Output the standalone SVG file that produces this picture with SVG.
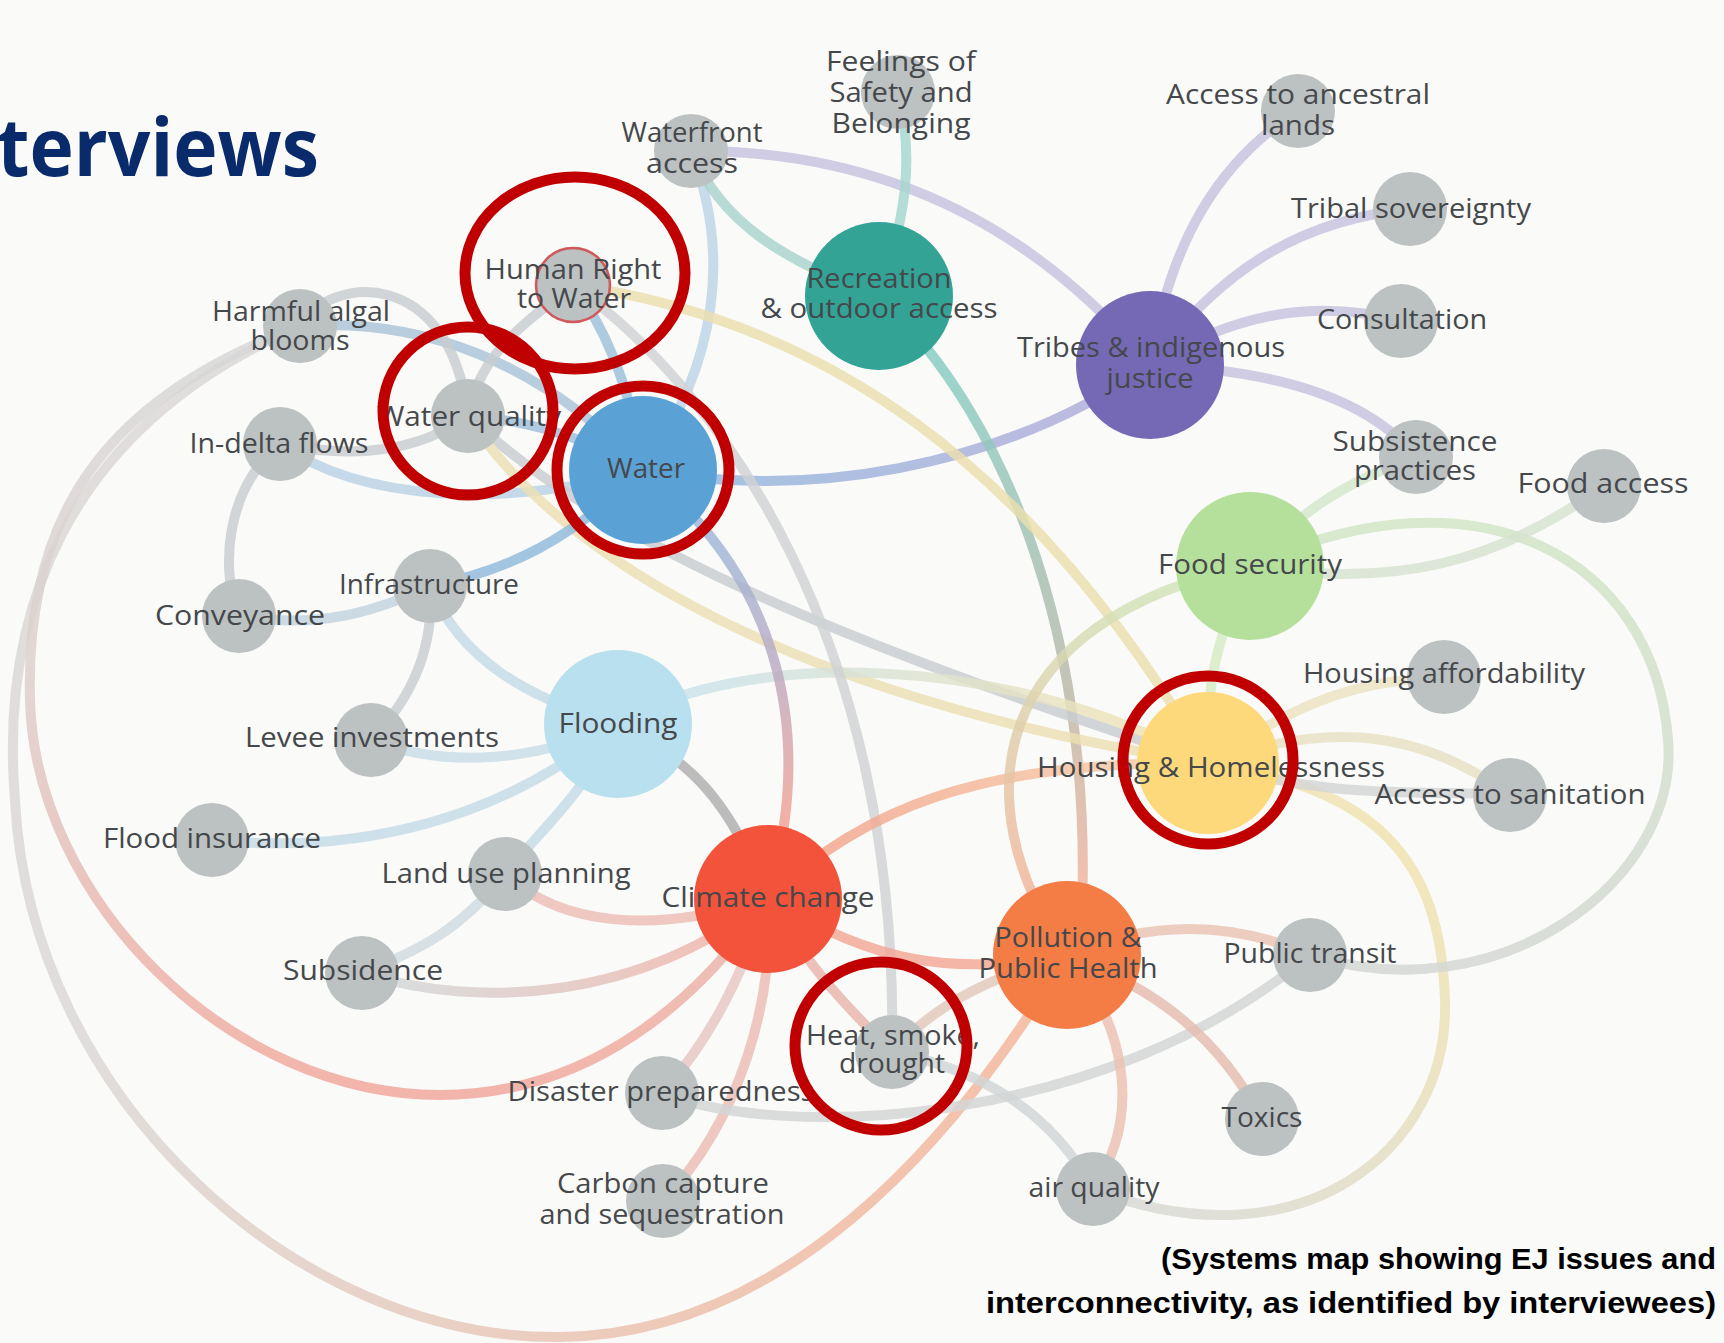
<svg xmlns="http://www.w3.org/2000/svg" width="1724" height="1343" viewBox="0 0 1724 1343">
<style>
.edge{fill:none;stroke-width:10;stroke-linecap:round;stroke-opacity:.82}
.g{stroke:#c9cdcf}
.lb{stroke:#b9d2e4}
.b{stroke:#9ec0dc}
.pu{stroke:#c6c2df}
.lbl{font-family:"Open Sans","Liberation Sans",sans-serif;font-size:27px;fill:#45484b;text-anchor:middle}
.sm circle{fill:#bcc1c2}
.hl{fill:none;stroke:#c00000;stroke-width:11}
.cap{font-family:"Liberation Sans",Arial,sans-serif;font-weight:700;font-size:30px;fill:#000}
</style>
<defs>
<linearGradient id="gWC" gradientUnits="userSpaceOnUse" x1="690" y1="520" x2="775" y2="826"><stop offset="0" stop-color="#98b8dc"/><stop offset=".5" stop-color="#b9a9c4"/><stop offset="1" stop-color="#f2a092"/></linearGradient>
<linearGradient id="gRP" gradientUnits="userSpaceOnUse" x1="0" y1="370" x2="0" y2="880"><stop offset="0" stop-color="#86cbc1"/><stop offset=".6" stop-color="#b6b8a8"/><stop offset="1" stop-color="#efb39e"/></linearGradient>
<linearGradient id="gA" gradientUnits="userSpaceOnUse" x1="0" y1="340" x2="0" y2="1080"><stop offset="0" stop-color="#d6d7d7"/><stop offset=".45" stop-color="#dccfcd"/><stop offset="1" stop-color="#f1a69a"/></linearGradient>
<linearGradient id="gB" gradientUnits="userSpaceOnUse" x1="0" y1="800" x2="1050" y2="1100"><stop offset=".15" stop-color="#dad7d5"/><stop offset="1" stop-color="#f4b396"/></linearGradient>
<linearGradient id="gCH" gradientUnits="userSpaceOnUse" x1="800" y1="0" x2="1140" y2="0"><stop offset="0" stop-color="#f3a189"/><stop offset="1" stop-color="#f6cba6"/></linearGradient>
<linearGradient id="gPF" gradientUnits="userSpaceOnUse" x1="0" y1="890" x2="0" y2="575"><stop offset="0" stop-color="#f0b49a"/><stop offset="1" stop-color="#d0e5b9"/></linearGradient>
<linearGradient id="gAQ" gradientUnits="userSpaceOnUse" x1="1100" y1="1200" x2="1450" y2="850"><stop offset="0" stop-color="#d6d8d6"/><stop offset="1" stop-color="#f2e3ab"/></linearGradient>
<linearGradient id="gPT" gradientUnits="userSpaceOnUse" x1="0" y1="980" x2="0" y2="500"><stop offset="0" stop-color="#d3d6d3"/><stop offset="1" stop-color="#d0e6c4"/></linearGradient>
<linearGradient id="gFH" gradientUnits="userSpaceOnUse" x1="650" y1="0" x2="1150" y2="0"><stop offset="0" stop-color="#c7e2ee"/><stop offset="1" stop-color="#efe3b5"/></linearGradient>
<linearGradient id="gWT" gradientUnits="userSpaceOnUse" x1="700" y1="0" x2="1100" y2="0"><stop offset="0" stop-color="#93b6de"/><stop offset="1" stop-color="#b0acd9"/></linearGradient>
<linearGradient id="gSC" gradientUnits="userSpaceOnUse" x1="400" y1="0" x2="720" y2="0"><stop offset="0" stop-color="#d3d6d7"/><stop offset="1" stop-color="#efb4aa"/></linearGradient>
</defs>
<rect width="1724" height="1343" fill="#fafaf8"/>
<text x="-3" y="176" font-family="'Open Sans','Liberation Sans',sans-serif" font-weight="700" font-size="80" fill="#0a2b6b" textLength="322" lengthAdjust="spacingAndGlyphs">terviews</text>

<g id="connectors">
<path class="edge" style="stroke:url(#gB)" d="M300,326 C 60,430 0,620 15,800 C 30,1100 300,1340 560,1337 C 780,1335 950,1150 1067,955"/>
<path class="edge" style="stroke:url(#gA)" d="M300,326 C 100,400 25,520 30,700 C 35,900 230,1095 440,1095 C 590,1095 700,1000 768,899"/>
<path class="edge" stroke="#a9c4d8" d="M300,326 C 420,318 540,360 643,470"/>
<path class="edge g" d="M300,326 C 330,275 450,265 468,416"/>
<path class="edge g" d="M573,285 C 530,320 480,350 468,416"/>
<path class="edge g" d="M280,444 C 360,460 420,450 468,416"/>
<path class="edge lb" d="M280,444 C 360,500 500,510 643,470"/>
<path class="edge b" d="M468,416 C 530,420 590,440 643,470"/>
<path class="edge b" d="M573,285 C 600,320 630,380 643,470"/>
<path class="edge" stroke="#bcd4e6" d="M691,151 C 730,250 720,360 643,470"/>
<path class="edge" stroke="#a8d3cd" d="M691,151 C 720,220 780,260 879,296"/>
<path class="edge pu" d="M691,151 C 860,150 1020,210 1150,365"/>
<path class="edge" stroke="#a6d7d0" d="M898,92 C 915,160 905,220 879,296"/>
<path class="edge" style="stroke:url(#gWT)" d="M643,470 C 800,500 1000,470 1150,365"/>
<path class="edge" style="stroke:url(#gRP)" d="M879,296 C 1010,420 1100,650 1080,955"/>
<path class="edge" stroke="#eadfae" d="M573,285 C 820,320 1030,460 1208,763"/>
<path class="edge g" d="M468,416 C 620,560 900,660 1208,763"/>
<path class="edge" stroke="#ebe1b3" d="M468,416 C 560,560 800,700 1208,763"/>
<path class="edge" style="stroke:url(#gFH)" d="M618,724 C 740,650 1000,650 1208,763"/>
<path class="edge" style="stroke:url(#gWC)" d="M643,470 C 770,570 820,720 768,899"/>
<path class="edge" stroke="#cfd2d3" d="M573,285 C 720,390 900,640 892,1052"/>
<path class="edge" stroke="#c5dbe5" d="M430,586 C 460,660 530,700 618,724"/>
<path class="edge" stroke="#8fb9dc" d="M430,586 C 510,570 570,540 643,470"/>
<path class="edge" stroke="#c2d3df" d="M239,616 C 320,630 380,610 430,586"/>
<path class="edge g" d="M430,586 C 435,650 410,700 371,740"/>
<path class="edge g" d="M280,444 C 225,490 220,570 239,616"/>
<path class="edge" stroke="#c8dde7" d="M371,740 C 450,770 540,760 618,724"/>
<path class="edge" stroke="#c4dce8" d="M212,840 C 360,855 500,820 618,724"/>
<path class="edge" stroke="#c4dce8" d="M505,874 C 540,830 580,800 618,724"/>
<path class="edge" stroke="#cfdbe0" d="M505,874 C 460,930 420,950 362,973"/>
<path class="edge" stroke="#ebbdb5" d="M505,874 C 560,925 650,935 768,899"/>
<path class="edge" stroke="#aeaeae" d="M618,724 C 690,760 730,800 768,899"/>
<path class="edge" style="stroke:url(#gSC)" d="M362,973 C 480,1010 640,1000 768,899"/>
<path class="edge" stroke="#e8c6c3" d="M768,899 C 740,980 710,1040 662,1093"/>
<path class="edge" stroke="#ecbcb5" d="M768,899 C 775,1000 740,1120 663,1201"/>
<path class="edge" stroke="#e9b4ab" d="M768,899 C 810,970 850,1010 892,1052"/>
<path class="edge" stroke="#f3a795" d="M768,899 C 880,965 950,975 1067,955"/>
<path class="edge" style="stroke:url(#gCH)" d="M768,899 C 860,810 980,760 1208,763"/>
<path class="edge" stroke="#d3d6d6" d="M662,1093 C 780,1140 1100,1130 1310,955"/>
<path class="edge" stroke="#d2d6d6" d="M892,1052 C 980,1070 1050,1110 1093,1189"/>
<path class="edge" stroke="#e2c8bc" d="M892,1052 C 930,1010 980,980 1067,955"/>
<path class="edge" style="stroke:url(#gPF)" d="M1067,955 C 960,800 990,620 1250,566"/>
<path class="edge" stroke="#ecc3b4" d="M1067,955 C 1150,920 1230,920 1310,955"/>
<path class="edge" stroke="#e6bcae" d="M1067,955 C 1160,990 1220,1040 1262,1119"/>
<path class="edge" stroke="#ebbfb2" d="M1067,955 C 1130,1030 1140,1120 1093,1189"/>
<path class="edge" style="stroke:url(#gAQ)" d="M1093,1189 C 1300,1270 1450,1150 1445,1000 C 1440,860 1380,790 1208,763"/>
<path class="edge" style="stroke:url(#gPT)" d="M1310,955 C 1500,1015 1680,880 1668,740 C 1655,560 1480,460 1250,566"/>
<path class="edge" stroke="#d5e3d0" d="M1250,566 C 1400,590 1500,560 1604,486"/>
<path class="edge" stroke="#d3e7cb" d="M1250,566 C 1300,510 1350,480 1416,457"/>
<path class="edge" stroke="#d6ebc3" d="M1250,566 C 1215,640 1205,690 1208,763"/>
<path class="edge" stroke="#ece3c2" d="M1208,763 C 1300,700 1360,680 1444,677"/>
<path class="edge" stroke="#e9e1c5" d="M1208,763 C 1330,720 1420,730 1510,795"/>
<path class="edge" stroke="#d3d6d6" d="M1208,763 C 1330,800 1420,790 1510,795"/>
<path class="edge pu" d="M1150,365 C 1170,240 1220,160 1298,111"/>
<path class="edge pu" d="M1150,365 C 1220,270 1300,220 1410,209"/>
<path class="edge pu" d="M1150,365 C 1240,310 1320,300 1401,321"/>
<path class="edge pu" d="M1150,365 C 1280,370 1370,400 1416,457"/>
</g>

<g id="n-feelings" class="sm"><circle cx="898" cy="92" r="37"/><text class="lbl" x="901" y="71" textLength="150" lengthAdjust="spacingAndGlyphs">Feelings of</text><text class="lbl" x="901" y="102" textLength="143" lengthAdjust="spacingAndGlyphs">Safety and</text><text class="lbl" x="901" y="133" textLength="139" lengthAdjust="spacingAndGlyphs">Belonging</text></g>
<g id="n-waterfront" class="sm"><circle cx="691" cy="151" r="37"/><text class="lbl" x="692" y="142" textLength="141" lengthAdjust="spacingAndGlyphs">Waterfront</text><text class="lbl" x="692" y="173" textLength="92" lengthAdjust="spacingAndGlyphs">access</text></g>
<g id="n-ancestral" class="sm"><circle cx="1298" cy="111" r="37"/><text class="lbl" x="1298" y="104" textLength="264" lengthAdjust="spacingAndGlyphs">Access to ancestral</text><text class="lbl" x="1298" y="135" textLength="74" lengthAdjust="spacingAndGlyphs">lands</text></g>
<g id="n-sovereignty" class="sm"><circle cx="1410" cy="209" r="37"/><text class="lbl" x="1411" y="218" textLength="240" lengthAdjust="spacingAndGlyphs">Tribal sovereignty</text></g>
<g id="n-consultation" class="sm"><circle cx="1401" cy="321" r="37"/><text class="lbl" x="1402" y="329" textLength="170" lengthAdjust="spacingAndGlyphs">Consultation</text></g>
<g id="n-tribes"><circle cx="1150" cy="365" r="74" fill="#7569b6"/><text class="lbl" x="1151" y="357" textLength="268" lengthAdjust="spacingAndGlyphs">Tribes &amp; indigenous</text><text class="lbl" x="1150" y="388" textLength="87" lengthAdjust="spacingAndGlyphs">justice</text></g>
<g id="n-subsistence" class="sm"><circle cx="1416" cy="457" r="37"/><text class="lbl" x="1415" y="451" textLength="165" lengthAdjust="spacingAndGlyphs">Subsistence</text><text class="lbl" x="1415" y="480" textLength="122" lengthAdjust="spacingAndGlyphs">practices</text></g>
<g id="n-foodaccess" class="sm"><circle cx="1604" cy="486" r="37"/><text class="lbl" x="1603" y="493" textLength="171" lengthAdjust="spacingAndGlyphs">Food access</text></g>
<g id="n-foodsecurity"><circle cx="1250" cy="566" r="74" fill="#b5e09c"/><text class="lbl" x="1250" y="574" textLength="184" lengthAdjust="spacingAndGlyphs">Food security</text></g>
<g id="n-affordability" class="sm"><circle cx="1444" cy="677" r="37"/><text class="lbl" x="1444" y="683" textLength="282" lengthAdjust="spacingAndGlyphs">Housing affordability</text></g>
<g id="n-housing"><circle cx="1208" cy="763" r="71" fill="#fed97c"/><text class="lbl" x="1211" y="777" textLength="348" lengthAdjust="spacingAndGlyphs">Housing &amp; Homelessness</text></g>
<g id="n-sanitation" class="sm"><circle cx="1510" cy="795" r="37"/><text class="lbl" x="1510" y="804" textLength="271" lengthAdjust="spacingAndGlyphs">Access to sanitation</text></g>
<g id="n-pollution"><circle cx="1067" cy="955" r="74" fill="#f47c45"/><text class="lbl" x="1068" y="947" textLength="147" lengthAdjust="spacingAndGlyphs">Pollution &amp;</text><text class="lbl" x="1068" y="978" textLength="179" lengthAdjust="spacingAndGlyphs">Public Health</text></g>
<g id="n-transit" class="sm"><circle cx="1310" cy="955" r="37"/><text class="lbl" x="1310" y="963" textLength="173" lengthAdjust="spacingAndGlyphs">Public transit</text></g>
<g id="n-toxics" class="sm"><circle cx="1262" cy="1119" r="37"/><text class="lbl" x="1262" y="1127" textLength="81" lengthAdjust="spacingAndGlyphs">Toxics</text></g>
<g id="n-air" class="sm"><circle cx="1093" cy="1189" r="37"/><text class="lbl" x="1094" y="1197" textLength="131" lengthAdjust="spacingAndGlyphs">air quality</text></g>
<g id="n-heat" class="sm"><circle cx="892" cy="1052" r="37"/><text class="lbl" x="893" y="1045" textLength="174" lengthAdjust="spacingAndGlyphs">Heat, smoke,</text><text class="lbl" x="892" y="1073" textLength="106" lengthAdjust="spacingAndGlyphs">drought</text></g>
<g id="n-climate"><circle cx="768" cy="899" r="74" fill="#f2533a"/><text class="lbl" x="768" y="907" textLength="213" lengthAdjust="spacingAndGlyphs">Climate change</text></g>
<g id="n-disaster" class="sm"><circle cx="662" cy="1093" r="37"/><text class="lbl" x="661" y="1101" textLength="307" lengthAdjust="spacingAndGlyphs">Disaster preparedness</text></g>
<g id="n-carbon" class="sm"><circle cx="663" cy="1201" r="37"/><text class="lbl" x="663" y="1193" textLength="212" lengthAdjust="spacingAndGlyphs">Carbon capture</text><text class="lbl" x="662" y="1224" textLength="245" lengthAdjust="spacingAndGlyphs">and sequestration</text></g>
<g id="n-subsidence" class="sm"><circle cx="362" cy="973" r="37"/><text class="lbl" x="363" y="980" textLength="160" lengthAdjust="spacingAndGlyphs">Subsidence</text></g>
<g id="n-landuse" class="sm"><circle cx="505" cy="874" r="37"/><text class="lbl" x="506" y="883" textLength="249" lengthAdjust="spacingAndGlyphs">Land use planning</text></g>
<g id="n-floodins" class="sm"><circle cx="212" cy="840" r="37"/><text class="lbl" x="212" y="848" textLength="218" lengthAdjust="spacingAndGlyphs">Flood insurance</text></g>
<g id="n-levee" class="sm"><circle cx="371" cy="740" r="37"/><text class="lbl" x="372" y="747" textLength="254" lengthAdjust="spacingAndGlyphs">Levee investments</text></g>
<g id="n-flooding"><circle cx="618" cy="724" r="74" fill="#b9e0ef"/><text class="lbl" x="618" y="733" textLength="119" lengthAdjust="spacingAndGlyphs">Flooding</text></g>
<g id="n-conveyance" class="sm"><circle cx="239" cy="616" r="37"/><text class="lbl" x="240" y="625" textLength="170" lengthAdjust="spacingAndGlyphs">Conveyance</text></g>
<g id="n-infrastructure" class="sm"><circle cx="430" cy="586" r="37"/><text class="lbl" x="429" y="594" textLength="180" lengthAdjust="spacingAndGlyphs">Infrastructure</text></g>
<g id="n-indelta" class="sm"><circle cx="280" cy="444" r="37"/><text class="lbl" x="279" y="453" textLength="179" lengthAdjust="spacingAndGlyphs">In-delta flows</text></g>
<g id="n-waterquality" class="sm"><circle cx="468" cy="416" r="37"/><text class="lbl" x="469" y="426" textLength="184" lengthAdjust="spacingAndGlyphs">Water quality</text></g>
<g id="n-water"><circle cx="643" cy="470" r="74" fill="#5aa2d5"/><text class="lbl" x="646" y="478" textLength="78" lengthAdjust="spacingAndGlyphs">Water</text></g>
<g id="n-humanright" class="sm"><circle cx="573" cy="285" r="37" stroke="#d0575a" stroke-width="2.5"/><text class="lbl" x="573" y="279" textLength="177" lengthAdjust="spacingAndGlyphs">Human Right</text><text class="lbl" x="574" y="308" textLength="114" lengthAdjust="spacingAndGlyphs">to Water</text></g>
<g id="n-harmful" class="sm"><circle cx="300" cy="326" r="37"/><text class="lbl" x="301" y="321" textLength="178" lengthAdjust="spacingAndGlyphs">Harmful algal</text><text class="lbl" x="300" y="350" textLength="99" lengthAdjust="spacingAndGlyphs">blooms</text></g>
<g id="n-recreation"><circle cx="879" cy="296" r="74" fill="#33a396"/><text class="lbl" x="879" y="288" textLength="145" lengthAdjust="spacingAndGlyphs">Recreation</text><text class="lbl" x="879" y="318" textLength="237" lengthAdjust="spacingAndGlyphs">&amp; outdoor access</text></g>

<g id="highlights">
<ellipse class="hl" cx="575" cy="273" rx="110" ry="96"/>
<ellipse class="hl" cx="468" cy="411" rx="85" ry="84"/>
<ellipse class="hl" cx="643" cy="470" rx="86" ry="84"/>
<ellipse class="hl" cx="1208" cy="760" rx="85" ry="84"/>
<ellipse class="hl" cx="881" cy="1046" rx="86" ry="84"/>
</g>

<text class="cap" x="1161" y="1269" textLength="555" lengthAdjust="spacingAndGlyphs">(Systems map showing EJ issues and</text>
<text class="cap" x="986" y="1313" textLength="730" lengthAdjust="spacingAndGlyphs">interconnectivity, as identified by interviewees)</text>
</svg>
